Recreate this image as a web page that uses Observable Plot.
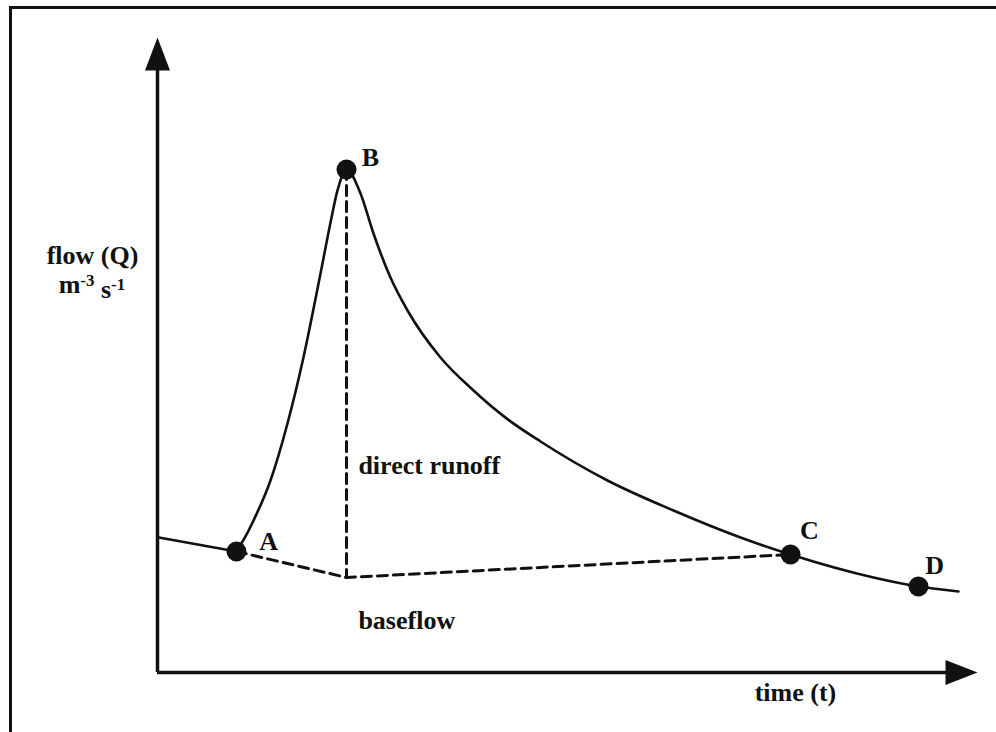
<!DOCTYPE html>
<html>
<head>
<meta charset="utf-8">
<script src="https://cdn.jsdelivr.net/npm/d3@7"></script>
<script src="https://cdn.jsdelivr.net/npm/@observablehq/plot@0.6"></script>
<style>
  html, body { margin: 0; padding: 0; background: #fff; overflow: hidden; width: 996px; height: 732px; }
  #frame { position: absolute; left: 9px; top: 6px; width: 1100px; height: 900px; border-top: 3px solid #111; border-left: 3px solid #111; }
  #chart { position: absolute; left: 0; top: 0; }
</style>
</head>
<body>
<div id="frame"></div>
<div id="chart"></div>
<script>
// ---- data (time in arbitrary units 0-100, flow in arbitrary units 0-100) ----
const preT = [0, 9.63];
const preQ = [21.3, 19.06];

const hydroT = [9.63, 10.73, 11.71, 13.78, 15.85, 17.80, 19.88, 21.10, 21.95, 23.05,
                24.76, 26.34, 28.41, 30.49, 34.51, 38.54, 42.68, 46.71, 54.88, 62.93,
                71.10, 77.20, 87.32, 92.80, 97.68];
const hydroQ = [19.06, 21.42, 23.94, 30.24, 39.21, 49.61, 62.83, 70.87, 75.91, 79.21,
                75.43, 69.13, 62.20, 57.01, 49.61, 44.41, 39.90, 36.38, 30.24, 25.51,
                21.26, 18.58, 14.96, 13.54, 12.76];

const sepT = [9.63, 23.05, 77.20];
const sepQ = [19.06, 14.96, 18.58];

const peakT = [23.05, 23.05];
const peakQ = [79.21, 14.96];

const pointNames = ["A", "B", "C", "D"];
const pointT = [9.63, 23.05, 77.20, 92.80];
const pointQ = [19.06, 79.21, 18.58, 13.54];
const labelT = [13.54, 25.98, 79.50, 94.76];
const labelQ = [20.63, 81.10, 22.36, 16.85];

const regionNames = ["direct runoff", "baseflow"];
const regionT = [24.5, 24.5];
const regionQ = [32.5, 8.2];

const yLabel1 = "flow (Q)";
const yLabel2 = "m-3 s-1";
const xLabel = "time (t)";

// ---- build tables ----
const pre = preT.map((t, i) => ({t, q: preQ[i]}));
const hydro = hydroT.map((t, i) => ({t, q: hydroQ[i]}));
const sep = sepT.map((t, i) => ({t, q: sepQ[i]}));
const peak = peakT.map((t, i) => ({t, q: peakQ[i]}));
const pts = pointNames.map((name, i) => ({name, t: pointT[i], q: pointQ[i], lt: labelT[i], lq: labelQ[i]}));
const regions = regionNames.map((name, i) => ({name, t: regionT[i], q: regionQ[i]}));

// filled arrowheads (tip at the anchor point)
const arrowUp = {draw(ctx) { ctx.moveTo(0, 0); ctx.lineTo(-12.5, 33); ctx.lineTo(12.5, 33); ctx.closePath(); }};
const arrowRight = {draw(ctx) { ctx.moveTo(0, 0); ctx.lineTo(-32, -12.5); ctx.lineTo(-32, 12.5); ctx.closePath(); }};

const font = {fontSize: 26, fontWeight: "bold", fill: "#111", fontFamily: "'Liberation Serif', 'DejaVu Serif', serif"};

const chart = Plot.plot({
  width: 996,
  height: 732,
  marginLeft: 157,
  marginRight: 19,
  marginTop: 37,
  marginBottom: 60,
  x: {domain: [0, 100], axis: null},
  y: {domain: [0, 100], axis: null},
  style: {background: "transparent", fontFamily: "'Liberation Serif', serif"},
  marks: [
    // axes
    Plot.ruleX([0], {y1: 0, y2: 95, stroke: "#111", strokeWidth: 3.5}),
    Plot.ruleY([0], {x1: 0, x2: 97, stroke: "#111", strokeWidth: 3.5}),
    Plot.dot([{t: 0, q: 100}], {x: "t", y: "q", symbol: arrowUp, fill: "#111", stroke: "none"}),
    Plot.dot([{t: 100, q: 0}], {x: "t", y: "q", symbol: arrowRight, fill: "#111", stroke: "none"}),
    // baseflow separation (dashed)
    Plot.line(sep, {x: "t", y: "q", stroke: "#111", strokeWidth: 3, strokeDasharray: "10,6"}),
    Plot.line(peak, {x: "t", y: "q", stroke: "#111", strokeWidth: 3, strokeDasharray: "10,6"}),
    // hydrograph
    Plot.line(pre, {x: "t", y: "q", stroke: "#111", strokeWidth: 2.6}),
    Plot.line(hydro, {x: "t", y: "q", stroke: "#111", strokeWidth: 2.6, curve: "monotone-x"}),
    // points
    Plot.dot(pts, {x: "t", y: "q", r: 10, fill: "#111", stroke: "none"}),
    Plot.text(pts, {x: "lt", y: "lq", text: "name", ...font}),
    // region labels
    Plot.text(regions, {x: "t", y: "q", text: "name", textAnchor: "start", ...font}),
    // axis titles
    Plot.text([yLabel1], {x: -7.93, y: 65.7, text: d => d, ...font}),
    Plot.text([yLabel2], {x: -8.0, y: 61.0, text: d => d, ...font, className: "unit-label"}),
    Plot.text([xLabel], {x: 77.8, y: -3.2, text: d => d, ...font})
  ]
});

document.getElementById("chart").appendChild(chart);

// render the unit label with superscripts: m^-3 s^-1
d3.select(chart).selectAll(".unit-label text").each(function () {
  const t = d3.select(this);
  const parts = t.text().split(" "); // ["m-3", "s-1"]
  t.text(null);
  t.append("tspan").text(parts[0].slice(0, 1));
  t.append("tspan").attr("dy", "-0.45em").attr("font-size", "0.65em").text(parts[0].slice(1));
  t.append("tspan").attr("dy", "0.45em").text("\u00a0" + parts[1].slice(0, 1));
  t.append("tspan").attr("dy", "-0.45em").attr("font-size", "0.65em").text(parts[1].slice(1));
});
</script>
</body>
</html>
